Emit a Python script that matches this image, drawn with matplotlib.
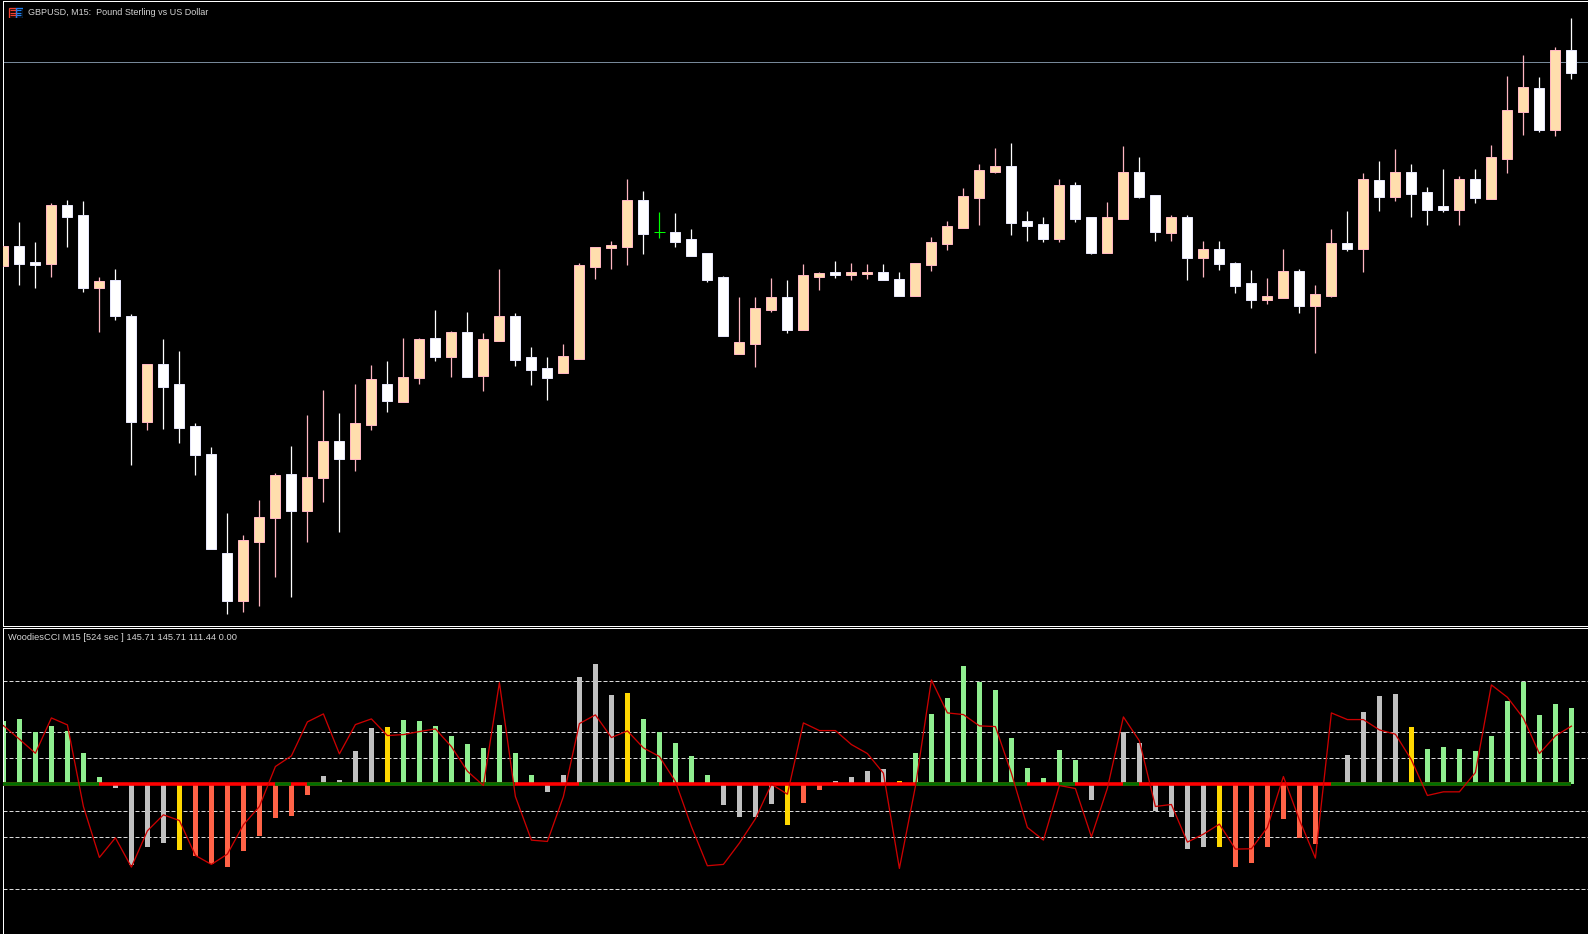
import numpy as np
import matplotlib
matplotlib.use('Agg')
from matplotlib import pyplot as plt
from matplotlib.patches import Rectangle

# figure size in pixels
W, H = 1588, 934

# candles, no price scale on the screen so levels are points above the panel foot
opens = [354.3, 374.0, 358.0, 356.3, 414.7, 405.0, 332.3, 340.0, 304.0, 198.3,
         255.7, 235.7, 193.7, 165.7, 66.7, 19.3, 78.3, 102.3, 145.7, 109.3,
         141.7, 178.7, 160.7, 195.3, 235.7, 218.3, 242.3, 281.7, 263.3, 287.7,
         244.3, 279.3, 303.7, 262.7, 251.7, 247.3, 261.3, 353.3, 372.3, 373.3,
         419.7, 387.7, 387.7, 380.7, 366.7, 342.7, 266.3, 276.3, 310.3, 322.7,
         290.3, 343.3, 347.7, 345.3, 346.3, 347.7, 340.7, 324.3, 355.3, 376.3,
         392.3, 422.3, 448.3, 453.7, 398.7, 395.7, 381.3, 434.7, 402.7, 367.3,
         401.3, 447.7, 424.7, 387.3, 402.7, 362.3, 370.7, 356.7, 336.7, 320.3,
         321.7, 348.7, 314.3, 324.3, 376.7, 371.3, 439.7, 423.3, 447.7, 427.7,
         413.7, 410.3, 440.7, 421.3, 461.3, 508.3, 531.7, 490.3, 569.7]
closes = [374.0, 356.3, 355.0, 414.7, 403.3, 332.3, 338.7, 304.3, 198.3, 255.7,
          233.3, 192.3, 165.3, 71.3, 19.3, 79.7, 102.7, 144.7, 109.3, 142.7,
          178.7, 161.3, 196.7, 240.7, 219.3, 242.7, 280.7, 263.3, 287.7, 243.3,
          280.7, 303.7, 260.3, 250.3, 242.3, 263.7, 354.7, 372.7, 374.7, 419.7,
          386.3, 387.7, 378.3, 364.3, 340.3, 284.3, 277.7, 311.7, 322.7, 290.3,
          344.7, 346.7, 345.3, 347.7, 347.7, 340.3, 324.3, 356.7, 377.7, 393.7,
          423.7, 449.7, 453.7, 397.3, 394.3, 381.3, 434.7, 401.3, 367.3, 402.7,
          447.7, 423.3, 388.3, 402.7, 362.3, 370.7, 356.3, 334.3, 320.3, 323.7,
          348.7, 314.3, 325.7, 376.7, 371.3, 440.7, 423.3, 447.7, 426.3, 410.3,
          410.3, 440.7, 422.3, 462.7, 509.7, 532.7, 490.3, 569.7, 547.3]
highs = [374.0, 397.7, 377.7, 416.7, 420.0, 418.7, 342.7, 351.0, 306.0, 255.7,
         281.0, 269.0, 196.7, 173.0, 107.0, 85.0, 119.7, 146.7, 174.0, 205.0,
         230.0, 207.0, 236.0, 254.7, 258.7, 281.7, 281.7, 310.0, 289.0, 308.0,
         286.7, 351.0, 306.7, 272.7, 262.7, 276.0, 356.7, 372.7, 379.0, 440.7,
         429.0, 407.7, 407.0, 391.0, 366.7, 344.0, 323.0, 323.0, 342.0, 340.0,
         356.0, 348.0, 359.0, 357.0, 356.0, 356.0, 348.0, 356.7, 383.0, 399.0,
         431.7, 456.0, 472.0, 477.0, 409.0, 403.0, 440.7, 437.7, 402.7, 418.0,
         474.0, 463.0, 424.7, 404.7, 404.7, 379.0, 379.0, 358.0, 350.0, 342.0,
         371.0, 351.0, 335.0, 391.0, 409.0, 447.0, 459.0, 471.0, 456.0, 433.0,
         451.0, 443.7, 451.0, 475.0, 544.0, 565.0, 543.0, 573.0, 602.0]
lows = [354.3, 335.3, 332.3, 343.3, 373.3, 328.3, 288.3, 300.3, 155.3, 190.3,
        191.3, 177.3, 145.3, 71.3, 6.3, 8.3, 14.3, 43.3, 23.3, 78.3,
        118.3, 88.3, 149.0, 190.3, 208.3, 218.3, 236.3, 259.3, 243.3, 243.3,
        229.3, 279.3, 254.3, 235.0, 220.0, 247.3, 261.3, 341.3, 351.3, 355.3,
        366.3, 382.3, 373.3, 364.3, 338.3, 284.3, 266.3, 253.3, 308.3, 287.3,
        290.3, 330.3, 342.3, 340.3, 341.3, 340.3, 324.3, 324.3, 349.3, 370.3,
        392.3, 395.3, 447.3, 385.3, 379.3, 378.3, 378.3, 398.3, 366.3, 367.3,
        401.3, 422.3, 379.3, 379.3, 340.3, 343.3, 350.3, 327.3, 312.3, 316.3,
        321.7, 307.3, 267.3, 323.3, 369.3, 348.3, 409.3, 419.3, 403.3, 395.3,
        408.3, 395.3, 417.3, 421.3, 447.3, 485.3, 488.3, 484.3, 541.3]
price_line = 557.7

# WoodiesCCI histogram, last value is the one printed in the label
cci = [122.1, 124.6, 99.7, 111.9, 101.6, 59.4, 13.4, -6.4, -154.7, -120.8,
       -113.1, -126.6, -137.4, -154.0, -159.2, -129.1, -99.1, -65.8, -62.0, -21.7,
       16.6, 7.7, 63.3, 107.4, 110.6, 124.0, 122.1, 112.5, 93.3, 76.7,
       69.0, 114.4, 59.4, 17.3, -15.3, 17.3, 205.2, 230.1, 170.7, 174.5,
       124.6, 99.7, 78.6, 53.7, 17.3, -40.9, -63.9, -63.9, -37.7, -78.6,
       -35.8, -10.9, 5.8, 13.4, 24.9, 28.8, 5.8, 59.4, 134.2, 164.9,
       226.3, 195.6, 180.3, 88.2, 30.7, 11.5, 65.2, 46.0, -30.7, 0.0,
       99.7, 78.6, -51.8, -63.3, -124.6, -120.8, -120.8, -159.2, -152.1, -120.8,
       -67.8, -103.6, -115.1, 0.0, 55.6, 138.1, 168.7, 172.6, 109.3, 67.1,
       71.0, 67.1, 63.3, 92.0, 159.2, 195.6, 132.3, 154.7, 145.71]
# short CCI line
tcci = [112.5, 86.3, 59.4, 127.2, 113.8, -42.8, -140.6, -102.9, -159.2, -89.5,
        -58.8, -69.7, -136.8, -154.0, -134.2, -78.0, -42.8, 33.9, 54.3, 119.5,
        134.9, 58.2, 114.4, 125.3, 93.3, 95.2, 101.0, 106.1, 72.2, 24.9,
        -2.6, 195.0, -23.7, -107.4, -109.9, -23.7, 116.3, 133.0, 89.5, 102.3,
        69.7, 53.1, 5.1, -81.2, -156.6, -154.0, -113.1, -66.5, 0.0, -19.2,
        117.6, 102.9, 102.9, 76.1, 58.8, 21.1, -161.7, -4.5, 200.1, 136.8,
        133.6, 111.9, 110.6, 21.1, -83.1, -107.4, -2.6, -8.3, -101.0, -7.7,
        129.1, 83.1, -42.8, -39.0, -111.2, -95.9, -76.7, -124.6, -124.0, -83.1,
        14.7, -68.4, -141.9, 136.8, 124.0, 124.0, 104.2, 95.9, 46.7, -21.7,
        -14.7, -14.7, 22.4, 190.5, 166.8, 126.6, 58.8, 92.7, 111.44]
levels = [199, 100, 50, -52, -102, -201]

# bar colour runs (first, last)
gray_runs = [(7, 10), (20, 23), (34, 38), (45, 48), (52, 55), (68, 75), (84, 87)]
yellow_bars = [11, 24, 39, 49, 56, 76, 88]
tomato_runs = [(12, 19), (50, 51), (77, 82)]
# stretches of the zero line that are green, red everywhere else
green_zero = [(0, 6), (17, 18), (19, 32), (36, 41), (57, 64), (66, 67), (70, 71), (83, 98)]

title_top = 'GBPUSD, M15:  Pound Sterling vs US Dollar'
title_cci = 'WoodiesCCI M15 [524 sec ] 145.71 145.71 111.44 0.00'

BULL_FILL = '#FFDEAD'
BULL_EDGE = '#FFB6C1'
BEAR_FILL = '#FFFFFF'
BEAR_EDGE = '#E6E6FA'
PX = 0.72  # one pixel as a line width at dpi 100

plt.rcParams['font.family'] = ['Liberation Sans', 'DejaVu Sans']


def px_axes(fig, left, top, right, bottom):
    return fig.add_axes([left / W, 1 - bottom / H, (right - left) / W, (bottom - top) / H])


fig = plt.figure(figsize=(W / 100, H / 100), dpi=100, facecolor='black')
ax = px_axes(fig, 3.4, 1.3, W, 626)
ax2 = px_axes(fig, 3.4, 628, W, H)

for a in (ax, ax2):
    a.set_facecolor('black')
    a.set_xticks([])
    a.set_yticks([])
    a.set_xlim(0, (W - 3.4) / 16)
    a.spines['right'].set_visible(False)
    for s in ('left', 'top', 'bottom'):
        a.spines[s].set_color('white')
        a.spines[s].set_linewidth(PX)
ax2.spines['bottom'].set_visible(False)

ax.set_ylim(-6, 618.7)
ax2.set_ylim(-287.6, 299.8)

x = np.arange(len(closes))

# price panel
ax.axhline(price_line, color='#778899', lw=PX, zorder=1)
for i in x:
    o, c = opens[i], closes[i]
    if c == o:
        ax.vlines(i, lows[i], highs[i], color='#00FF00', lw=PX * 1.2, zorder=2)
        ax.hlines(o, i - 0.33, i + 0.33, color='#00FF00', lw=PX, zorder=2)
        continue
    up = c > o
    edge = BULL_EDGE if up else BEAR_EDGE
    ax.vlines(i, lows[i], highs[i], color=BULL_EDGE if up else 'white', lw=PX * 1.25, zorder=2)
    ax.add_patch(Rectangle((i - 0.31, min(o, c)), 0.62, abs(c - o),
                           facecolor=BULL_FILL if up else BEAR_FILL,
                           edgecolor=edge, lw=PX, zorder=3))

# cci panel
bar_colors = ['#90EE90'] * len(cci)
for a, b in gray_runs:
    for i in range(a, b + 1):
        bar_colors[i] = '#C0C0C0'
for a, b in tomato_runs:
    for i in range(a, b + 1):
        bar_colors[i] = '#FF6347'
for i in yellow_bars:
    bar_colors[i] = '#FFD700'

for lv in levels:
    ax2.axhline(lv, color='#D8D8D8', lw=PX, linestyle=(0, (4, 2)), zorder=1)
ax2.bar(x, cci, width=0.28, color=bar_colors, zorder=2)
ax2.hlines(0, 0, x[-1], color='#FF0000', lw=PX * 3.6, zorder=3)
for a, b in green_zero:
    ax2.hlines(0, a, b, color='#007000', lw=PX * 3.6, zorder=3)
ax2.plot(x, tcci, color='#CC0000', lw=PX * 1.3, zorder=4)

fig.text(28.5 / W, 1 - 12.7 / H, title_top, color='#D4D4D4', fontsize=6.5, va='center')
fig.text(8 / W, 1 - 637.7 / H, title_cci, color='#D4D4D4', fontsize=6.7, va='center')

# the small chart symbol next to the title
icon = px_axes(fig, 8, 7, 23, 18)
icon.axis('off')
icon.set_xlim(0, 15)
icon.set_ylim(11, 0)
icon.add_patch(Rectangle((0.5, 0.5), 7, 10, fill=False, edgecolor='#F04030', lw=PX * 1.3))
icon.add_patch(Rectangle((7.5, 0.5), 7, 10, fill=False, edgecolor='#2080F0', lw=PX * 1.3))
icon.hlines([3, 5.5, 8], 2, 7.5, color='#F04030', lw=PX * 1.3)
icon.hlines([3, 5.5, 8], 7.5, 13, color='#2080F0', lw=PX * 1.3)

fig.savefig('out.png', dpi=100, facecolor='black')
